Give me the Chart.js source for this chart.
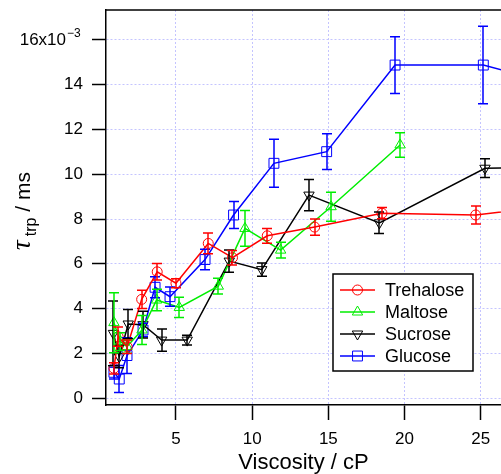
<!DOCTYPE html>
<html><head><meta charset="utf-8">
<script src="https://cdn.jsdelivr.net/npm/chart.js@4/dist/chart.umd.min.js"></script>
<style>html,body{margin:0;padding:0;background:#fff;overflow:hidden}canvas{display:block}</style>
</head><body>
<canvas id="c" width="501" height="474"></canvas>
<script>
// ---- data (tau_trp in units of 1e-3 ms, viscosity in cP) ----
const seriesNames = ['Trehalose', 'Maltose', 'Sucrose', 'Glucose'];
const seriesColors = ['#ff0000', '#00ee00', '#000000', '#0000ff'];

const trehaloseX   = [0.93, 1.21, 1.80, 2.75, 3.77, 5.00, 7.12, 8.71, 10.99, 14.10, 18.52, 24.67, 30.0];
const trehaloseY   = [1.33, 2.74, 2.29, 4.41, 5.64, 5.13, 6.91, 6.27, 7.25, 7.64, 8.26, 8.18, 8.6];
const trehaloseErr = [0.25, 0.43, 0.30, 0.41, 0.37, 0.20, 0.46, 0.32, 0.33, 0.36, 0.25, 0.40, 0.3];

const maltoseX   = [0.93, 1.36, 1.79, 2.77, 3.73, 5.22, 7.78, 9.53, 11.87, 15.18, 19.71];
const maltoseY   = [3.37, 2.52, 2.30, 3.04, 4.38, 4.05, 5.00, 7.58, 6.61, 8.55, 11.31];
const maltoseErr = [1.34, 0.40, 0.30, 0.65, 0.48, 0.45, 0.35, 0.80, 0.35, 0.65, 0.55];

const sucroseX   = [0.90, 1.28, 1.87, 2.84, 4.06, 5.74, 8.50, 10.63, 13.73, 18.35, 25.28, 30.0];
const sucroseY   = [2.89, 1.85, 3.31, 3.28, 2.59, 2.59, 6.12, 5.74, 9.07, 7.83, 10.27, 10.3];
const sucroseErr = [1.45, 0.50, 0.65, 0.60, 0.50, 0.22, 0.50, 0.30, 0.70, 0.48, 0.42, 0.4];

const glucoseX   = [0.93, 1.28, 1.79, 2.84, 3.63, 4.61, 6.91, 8.78, 11.43, 14.89, 19.38, 25.17, 30.0];
const glucoseY   = [1.15, 0.85, 1.90, 3.04, 4.95, 4.53, 6.19, 8.18, 10.49, 11.01, 14.88, 14.88, 14.0];
const glucoseErr = [0.30, 0.60, 0.80, 0.30, 0.47, 0.43, 0.46, 0.60, 1.07, 0.80, 1.27, 1.73, 1.0];

const xTicks = [5, 10, 15, 20, 25];
const yTicks = [0, 2, 4, 6, 8, 10, 12, 14, 16];

const xs = [trehaloseX, maltoseX, sucroseX, glucoseX];
const ys = [trehaloseY, maltoseY, sucroseY, glucoseY];
const errs = [trehaloseErr, maltoseErr, sucroseErr, glucoseErr];
const pointStyles = ['circle', 'triangle', 'triangle', 'rect'];
const pointRotations = [0, 0, 180, 0];
const pointRadii = [5, 6, 6, 7];

const FONT = '"Liberation Sans", Arial, sans-serif';

const datasets = seriesNames.map((name, i) => ({
  label: name,
  data: xs[i].map((x, j) => ({x: x, y: ys[i][j]})),
  borderColor: seriesColors[i],
  backgroundColor: 'rgba(0,0,0,0)',
  borderWidth: 1.5,
  pointStyle: pointStyles[i],
  rotation: pointRotations[i],
  pointRadius: pointRadii[i],
  pointBorderWidth: 1,
  pointBorderColor: seriesColors[i],
  pointBackgroundColor: 'rgba(0,0,0,0)',
  tension: 0,
  fill: false
}));

function drawMarker(ctx, style, rot, r, x, y) {
  ctx.beginPath();
  if (style === 'circle') {
    ctx.arc(x, y, r, 0, Math.PI * 2);
  } else if (style === 'rect') {
    const s = r * Math.SQRT1_2;
    ctx.rect(x - s, y - s, 2 * s, 2 * s);
  } else {
    const a0 = (rot - 90) * Math.PI / 180;
    for (let k = 0; k < 3; k++) {
      const a = a0 + k * 2 * Math.PI / 3;
      const px = x + Math.cos(a) * r, py = y + Math.sin(a) * r;
      if (k === 0) ctx.moveTo(px, py); else ctx.lineTo(px, py);
    }
    ctx.closePath();
  }
  ctx.stroke();
}

const decor = {
  id: 'decor',
  afterDatasetsDraw(chart) {
    const {ctx, chartArea: ca, scales: {x, y}} = chart;
    ctx.save();
    ctx.beginPath();
    ctx.rect(ca.left, ca.top, ca.right - ca.left, ca.bottom - ca.top);
    ctx.clip();
    ctx.lineWidth = 1.5;
    for (let i = seriesNames.length - 1; i >= 0; i--) {
      ctx.strokeStyle = seriesColors[i];
      xs[i].forEach((xv, j) => {
        const e = errs[i][j];
        const px = Math.round(x.getPixelForValue(xv));
        const p1 = y.getPixelForValue(ys[i][j] + e);
        const p2 = y.getPixelForValue(ys[i][j] - e);
        ctx.beginPath();
        ctx.moveTo(px, p1); ctx.lineTo(px, p2);
        ctx.moveTo(px - 5, p1); ctx.lineTo(px + 5, p1);
        ctx.moveTo(px - 5, p2); ctx.lineTo(px + 5, p2);
        ctx.stroke();
      });
    }
    ctx.restore();
  },
  afterDraw(chart) {
    const {ctx, chartArea: ca, scales: {y}} = chart;
    ctx.save();
    // top frame line
    ctx.strokeStyle = '#000';
    ctx.lineWidth = 1.5;
    ctx.beginPath();
    ctx.moveTo(ca.left - 0.75, ca.top);
    ctx.lineTo(ca.right, ca.top);
    ctx.stroke();

    // superscript exponent on the top tick label
    ctx.font = '17px ' + FONT;
    const spaceW = ctx.measureText('\u2002\u2002').width;
    const labelRight = ca.left - 14 - 9;
    const py16 = y.getPixelForValue(16);
    ctx.fillStyle = '#000';
    ctx.textAlign = 'left';
    ctx.textBaseline = 'alphabetic';
    ctx.font = '12px ' + FONT;
    ctx.fillText('\u22123', labelRight - spaceW + 1, py16 - 3);

    // y-axis title: tau_trp / ms (rotated)
    const parts = [
      {t: '\u03C4', f: 'italic 27px "Liberation Serif", "DejaVu Serif", serif', dy: 0},
      {t: 'trp', f: '16px ' + FONT, dy: 6},
      {t: ' / ms', f: '21px ' + FONT, dy: 0}
    ];
    let total = 0;
    parts.forEach(p => { ctx.font = p.f; p.w = ctx.measureText(p.t).width; total += p.w; });
    total += 4;
    ctx.translate(30, 211);
    ctx.rotate(-Math.PI / 2);
    let cx = -total / 2;
    parts.forEach((p, k) => {
      ctx.font = p.f;
      ctx.fillText(p.t, cx, p.dy);
      cx += p.w + (k === 0 ? 4 : 0);
    });
    ctx.restore();

    // legend box
    ctx.save();
    const bx = 333, by = 274, bw = 140, bh = 97;
    ctx.fillStyle = '#fff';
    ctx.fillRect(bx, by, bw, bh);
    ctx.strokeStyle = '#000';
    ctx.lineWidth = 1.5;
    ctx.strokeRect(bx, by, bw, bh);
    seriesNames.forEach((name, i) => {
      const cy = by + 16 + i * 22;
      ctx.strokeStyle = seriesColors[i];
      ctx.lineWidth = 1.5;
      ctx.beginPath();
      ctx.moveTo(340, cy); ctx.lineTo(375, cy);
      ctx.stroke();
      ctx.lineWidth = 1;
      drawMarker(ctx, pointStyles[i], pointRotations[i], pointRadii[i], 357.5, cy);
      ctx.fillStyle = '#000';
      ctx.font = '18px ' + FONT;
      ctx.textAlign = 'left';
      ctx.textBaseline = 'middle';
      ctx.fillText(name, 385, cy + 1);
    });
    ctx.restore();
  }
};

new Chart(document.getElementById('c'), {
  type: 'line',
  data: {datasets},
  options: {
    responsive: false,
    animation: false,
    devicePixelRatio: 1,
    layout: {autoPadding: false, padding: {top: 10, right: 0, left: 0, bottom: 0}},
    plugins: {legend: {display: false}, tooltip: {enabled: false}},
    scales: {
      x: {
        type: 'linear',
        min: 0.41,
        max: 26.33,
        afterBuildTicks: s => { s.ticks = xTicks.map(v => ({value: v})); },
        afterFit: s => { s.height = 69; s.paddingLeft = 0; s.paddingRight = 0; },
        grid: {color: '#c4c4ff', lineWidth: 1, tickColor: '#000', tickLength: 15, tickWidth: 1.5},
        border: {display: true, color: '#000', width: 1.5, dash: [2, 2]},
        ticks: {color: '#000', font: {family: FONT, size: 17}, padding: 9, maxRotation: 0, autoSkip: false},
        title: {display: true, text: 'Viscosity / cP', color: '#000',
                font: {family: FONT, size: 22, lineHeight: 1}, padding: {top: 0, bottom: 0}}
      },
      y: {
        type: 'linear',
        min: -0.31,
        max: 17.34,
        afterBuildTicks: s => { s.ticks = yTicks.map(v => ({value: v})); },
        afterFit: s => { s.width = 106; s.paddingTop = 0; s.paddingBottom = 0; },
        grid: {color: '#c4c4ff', lineWidth: 1, tickColor: '#000', tickLength: 14, tickWidth: 1.5},
        border: {display: true, color: '#000', width: 1.5, dash: [2, 2]},
        ticks: {color: '#000', font: {family: FONT, size: 17}, padding: 9, autoSkip: false,
                callback: v => (v === 16 ? '16x10\u2002\u2002' : String(v))}
      }
    }
  },
  plugins: [decor]
});
</script>
</body></html>
